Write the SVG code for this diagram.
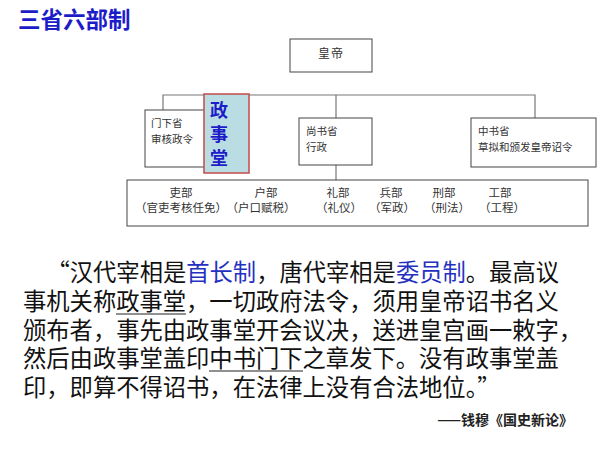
<svg xmlns="http://www.w3.org/2000/svg" width="600" height="450" viewBox="0 0 600 450">
<style>
.box{fill:#fff;stroke:#444;stroke-width:1}
.ln{fill:none;stroke:#777;stroke-width:1.2}
.t{font-family:"Noto Sans CJK SC","Noto Sans",sans-serif;fill:#333}
.s{font-size:10.5px}
.m{font-size:11.5px;text-anchor:middle}
.b{font-family:"Noto Sans CJK SC","Noto Sans",sans-serif;font-size:23.3px;fill:#111}
.blue{fill:#2430c0}
.ul{stroke:#222;stroke-width:1.2}
</style>
<rect width="600" height="450" fill="#fff"/>
<text x="18" y="28" font-family="Noto Sans CJK SC, sans-serif" font-size="22.5" font-weight="bold" fill="#1c1cc8">三省六部制</text>
<g id="connectors">
<path class="ln" d="M163,110 V95 H535 V118"/>
<path class="ln" d="M336,95 V118 M336,165 V180"/>
</g>
<g id="emperor">
<rect class="box" x="290" y="39" width="82" height="33"/>
<text class="t" x="331" y="58" font-size="12" text-anchor="middle" letter-spacing="1">皇帝</text>
</g>
<g id="menxia">
<rect class="box" x="145" y="110" width="62" height="57"/>
<text class="t s" x="151" y="127">门下省</text>
<text class="t s" x="151" y="143">审核政令</text>
</g>
<g id="zhengshitang">
<rect x="204" y="94" width="45" height="79" fill="#b9dde2" stroke="#c44a4a" stroke-width="1.5"/>
<g font-family="Noto Sans CJK SC, sans-serif" font-size="18" font-weight="bold" fill="#1c1cc8" text-anchor="middle">
<text x="219" y="117">政</text>
<text x="219" y="141">事</text>
<text x="219" y="165">堂</text>
</g>
</g>
<g id="shangshu">
<rect class="box" x="299" y="118" width="73" height="47"/>
<text class="t s" x="306" y="135">尚书省</text>
<text class="t s" x="306" y="151">行政</text>
</g>
<g id="zhongshu">
<rect class="box" x="471" y="118" width="125" height="49"/>
<text class="t s" x="478" y="135">中书省</text>
<text class="t s" x="478" y="151">草拟和颁发皇帝诏令</text>
</g>
<g id="liubu">
<rect class="box" x="127" y="180" width="461" height="46"/>
<g class="t m">
<text x="181" y="197">吏部</text>
<text x="181" y="212">（官吏考核任免）</text>
<text x="266" y="197">户部</text>
<text x="261" y="212">（户口赋税）</text>
<text x="338" y="197">礼部</text>
<text x="339" y="212">（礼仪）</text>
<text x="391" y="197">兵部</text>
<text x="392" y="212">（军政）</text>
<text x="444" y="197">刑部</text>
<text x="447" y="212">（刑法）</text>
<text x="500" y="197">工部</text>
<text x="502" y="212">（工程）</text>
</g>
</g>
<g id="quote">
<text class="b" x="559" y="281" text-anchor="end">“汉代宰相是<tspan class="blue">首长制</tspan>，唐代宰相是<tspan class="blue">委员制</tspan>。最高议</text>
<text class="b" x="23" y="310">事机关称政事堂，一切政府法令，须用皇帝诏书名义</text>
<text class="b" x="23" y="338.5">颁布者，事先由政事堂开会议决，送进皇宫画一敕字，</text>
<text class="b" x="23" y="367">然后由政事堂盖印中书门下之章发下。没有政事堂盖</text>
<text class="b" x="23" y="395.5">印，即算不得诏书，在法律上没有合法地位。”</text>
<line class="ul" x1="116" y1="314" x2="186" y2="314"/>
<line class="ul" x1="209" y1="371" x2="303" y2="371"/>
<text x="573" y="425" text-anchor="end" font-family="Noto Sans CJK SC, sans-serif" font-size="14" font-weight="bold" fill="#222">——钱穆《国史新论》</text>
</g>
</svg>
